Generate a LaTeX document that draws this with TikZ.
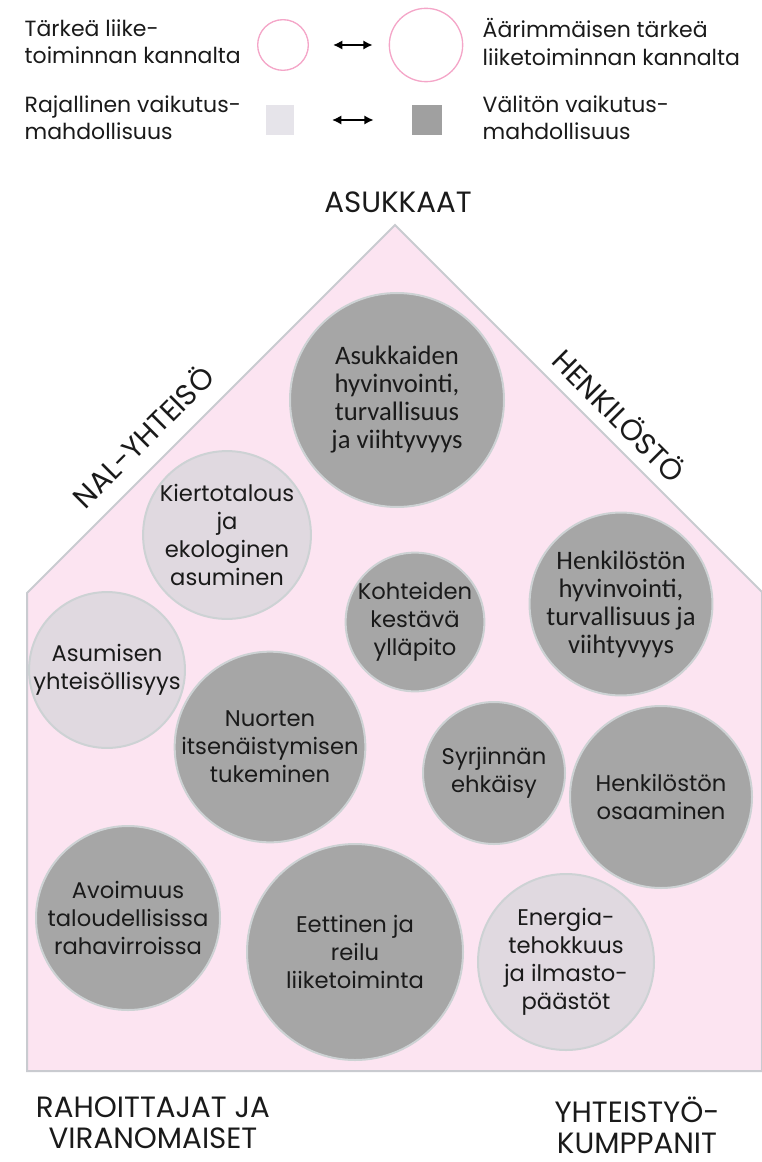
\documentclass[tikz,border=0pt]{standalone}
\usepackage{fontspec}
\usepackage{xcolor}
\usepackage{tikz}
\usetikzlibrary{arrows.meta}
\setmainfont{Poppins}
\newfontfamily\calfont{Carlito}
\definecolor{housePink}{HTML}{FCE4F1}
\definecolor{houseLine}{HTML}{C9CBD0}
\definecolor{circleDark}{HTML}{A6A6A6}
\definecolor{circleLight}{HTML}{E0D9E0}
\definecolor{circleEdge}{HTML}{CDD2D4}
\definecolor{ringPink}{HTML}{F4A6C8}
\definecolor{squareLight}{HTML}{E6E4EA}
\definecolor{squareDark}{HTML}{A0A0A0}
\definecolor{textDark}{HTML}{1A1A1A}

\begin{document}
\begin{tikzpicture}[x=0.75pt,y=-0.75pt]

        \tikzset{
            house/.style={
                fill=housePink,
                draw=houseLine,
                line width=1.5pt
            },
            topicDark/.style={circle, fill=circleDark, draw=circleEdge, line width=1.5pt,
                align=center, text=textDark, inner sep=0pt,
                font=\fontsize{17}{21}\selectfont},
            topicLight/.style={topicDark, fill=circleLight},
            calText/.style={font=\calfont\fontsize{20}{21}\selectfont},
            stakeholder/.style={text=textDark, align=center, font=\fontsize{22}{23.5}\selectfont},
            legendText/.style={anchor=west, align=left, text=textDark,
                font=\fontsize{16.5}{20.5}\selectfont},
            legendArrow/.style={{Latex[length=7pt,width=7pt]}-{Latex[length=7pt,width=7pt]},
                line width=1.5pt}
        }

        \newcommand{\Topic}[5]{
            \node[#2, minimum size=#4*1.5pt] (#1) at (#3) {#5};
        }

        \useasboundingbox (0,0) rectangle (762,1162);

        % legend
        \node[legendText] (importantText) at (20,42) {Tärkeä liike-\\toiminnan kannalta};
        \node[legendText] (criticalText) at (478,42) {Äärimmäisen tärkeä\\liiketoiminnan kannalta};
        \node[circle, draw=ringPink, line width=1pt, minimum size=38pt] (smallRing) at (283,45) {};
        \node[circle, draw=ringPink, line width=1pt, minimum size=55pt] (bigRing) at (426,45) {};
        \draw[legendArrow, shorten <=18pt, shorten >=12pt] (smallRing.east) -- (bigRing.west);

        \node[legendText] (limitedText) at (20,118) {Rajallinen vaikutus-\\mahdollisuus};
        \node[legendText] (directText) at (478,118) {Välitön vaikutus-\\mahdollisuus};
        \node[fill=squareLight, minimum width=21pt, minimum height=22pt, inner sep=0pt] (lightSquare) at (280,120) {};
        \node[fill=squareDark, minimum width=23pt, minimum height=22pt, inner sep=0pt] (darkSquare) at (427,120) {};
        \draw[legendArrow, shorten <=39pt, shorten >=40pt] (lightSquare.center) -- (darkSquare.center);

        % house
        \draw[house] (27,1071) -- (27,593) -- (395,225) -- (762,592) -- (762,1071) -- cycle;

        \node[stakeholder] (residents) at (398,202) {ASUKKAAT};
        \node[stakeholder, rotate=45] (community) at (142,436) {NAL-YHTEISÖ};
        \node[stakeholder, rotate=-45] (staff) at (620,415) {HENKILÖSTÖ};
        \node[stakeholder] (financiers) at (153,1123) {RAHOITTAJAT JA\\VIRANOMAISET};
        \node[stakeholder] (partners) at (637,1125) {YHTEISTYÖ-\\KUMPPANIT};

        % topics
        \Topic{wellbeing}{topicDark, calText}{397,400}{107}{Asukkaiden\\hyvinvointi,\\turvallisuus\\ja viihtyvyys}
        \Topic{circular}{topicLight}{227,535}{80}{Kiertotalous\\ja\\ekologinen\\asuminen}
        \Topic{communal}{topicLight}{107,670}{72}{Asumisen\\yhteisöllisyys}
        \Topic{upkeep}{topicDark}{415,622}{68}{Kohteiden\\kestävä\\ylläpito}
        \Topic{staffWell}{topicDark, calText}{621,604}{90}{Henkilöstön\\hyvinvointi,\\turvallisuus ja\\viihtyvyys}
        \Topic{youth}{topicDark}{270,747}{93}{Nuorten\\itsenäistymisen\\tukeminen}
        \Topic{discrim}{topicDark}{494,773}{71}{Syrjinnän\\ehkäisy}
        \Topic{skills}{topicDark}{661,797}{91}{Henkilöstön\\osaaminen}
        \Topic{openness}{topicDark}{128,918}{92}{Avoimuus\\taloudellisissa\\rahavirroissa}
        \Topic{ethics}{topicDark}{355,952}{108}{Eettinen ja\\reilu\\liiketoiminta}
        \Topic{energy}{topicLight}{566,962}{88}{Energia-\\tehokkuus\\ja ilmasto-\\päästöt}

\end{tikzpicture}
\end{document}
